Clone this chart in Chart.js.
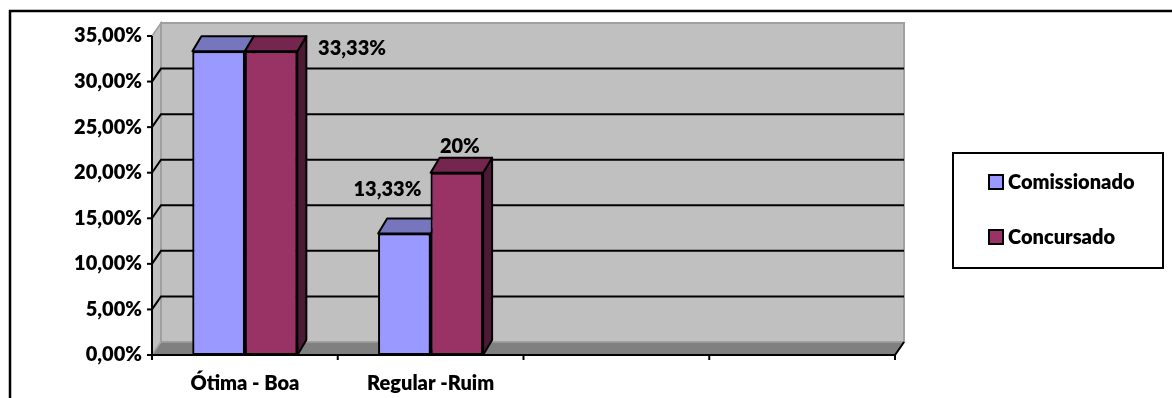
<!DOCTYPE html>
<html>
<head>
<meta charset="utf-8">
<script src="https://cdn.jsdelivr.net/npm/chart.js@4.4.1/dist/chart.umd.min.js"></script>
<style>
  html, body { margin: 0; padding: 0; background: #fff; }
  canvas { display: block; }
</style>
</head>
<body>
<canvas id="myChart" width="1172" height="398"></canvas>
<script>
const categories = ['Ótima - Boa', 'Regular -Ruim', '', ''];
const seriesNames = ['Comissionado', 'Concursado'];
const comissionado = [0.3333, 0.1333, null, null];
const concursado = [0.3333, 0.20, null, null];
const yMin = 0, yMax = 0.35, yStep = 0.05;

const FONT = 'Lato, "Open Sans", sans-serif';
const WEIGHT = '800';
const frontColors = ['#9999FF', '#993366'];
const topColors = ['#7676BF', '#74264F'];
const sideColors = ['#5A5A96', '#4D1A35'];
const wallDepth = { dx: 9, dy: -13 };
const barDepth = { dx: 9, dy: -15 };

// where each value label sits relative to its bar (x centre, front top); null = hidden
const labelSpots = [
  [null, { x: -17, y: -44, align: 'center' }],
  [{ x: 47, y: -3, align: 'left' }, { x: 3, y: -26, align: 'center' }]
];

function pctLabel(v) {
  const p = Math.round(v * 10000) / 100;
  return (Number.isInteger(p) ? String(p) : p.toFixed(2)).replace('.', ',') + '%';
}

function poly(ctx, pts, fill, stroke, lw) {
  ctx.beginPath();
  ctx.moveTo(pts[0][0], pts[0][1]);
  for (let i = 1; i < pts.length; i++) ctx.lineTo(pts[i][0], pts[i][1]);
  ctx.closePath();
  if (fill) { ctx.fillStyle = fill; ctx.fill(); }
  if (stroke) { ctx.strokeStyle = stroke; ctx.lineWidth = lw; ctx.stroke(); }
}

// walls, floor and gridlines behind the bars
const frame3d = {
  id: 'frame3d',
  beforeDatasetsDraw(chart) {
    const { ctx, chartArea: a, scales: { y } } = chart;
    const { dx, dy } = wallDepth;
    const y0 = y.getPixelForValue(yMin);
    const yTop = y.getPixelForValue(yMax);
    ctx.save();
    poly(ctx, [[a.left, yTop], [a.left + dx, yTop + dy], [a.left + dx, y0 + dy], [a.left, y0]], '#C0C0C0', '#A0A0A0', 1.5);
    poly(ctx, [[a.left + dx, yTop + dy], [a.right + dx, yTop + dy], [a.right + dx, y0 + dy], [a.left + dx, y0 + dy]], '#C0C0C0', '#A0A0A0', 2);
    poly(ctx, [[a.left, y0], [a.left + dx, y0 + dy], [a.right + dx, y0 + dy], [a.right, y0]], '#808080', '#A0A0A0', 1.5);

    ctx.strokeStyle = '#000';
    ctx.lineWidth = 2;
    y.ticks.forEach(t => {
      if (t.value <= yMin || t.value >= yMax) return;
      const py = y.getPixelForValue(t.value);
      ctx.beginPath();
      ctx.moveTo(a.left, py);
      ctx.lineTo(a.left + dx, py + dy);
      ctx.lineTo(a.right + dx, py + dy);
      ctx.stroke();
    });
    ctx.restore();
  },
  afterDatasetsDraw(chart) {
    const { ctx, chartArea: a, scales: { x, y } } = chart;
    const { dx, dy } = wallDepth;
    const y0 = y.getPixelForValue(yMin);
    const yTop = y.getPixelForValue(yMax);
    ctx.save();
    ctx.strokeStyle = '#000';
    ctx.lineWidth = 2;
    ctx.beginPath();
    ctx.moveTo(a.left, yTop);
    ctx.lineTo(a.left, y0);
    ctx.lineTo(a.right, y0);
    ctx.lineTo(a.right + dx, y0 + dy);
    ctx.stroke();
    // y tick marks
    y.ticks.forEach(t => {
      const py = y.getPixelForValue(t.value);
      ctx.beginPath();
      ctx.moveTo(a.left - 5, py);
      ctx.lineTo(a.left, py);
      ctx.stroke();
    });
    // x tick marks at category boundaries
    const n = categories.length;
    const w = (a.right - a.left) / n;
    for (let i = 0; i <= n; i++) {
      const px = x.getPixelForValue(i) - w / 2;
      ctx.beginPath();
      ctx.moveTo(px, y0);
      ctx.lineTo(px, y0 + 5);
      ctx.stroke();
    }
    ctx.restore();
  }
};

// bars again, series by series, each with its side and top face so the
// right-hand neighbour covers the side of the one before it
const bars3d = {
  id: 'bars3d',
  afterDatasetsDraw(chart) {
    const { ctx } = chart;
    const { dx, dy } = barDepth;
    ctx.save();
    ctx.lineJoin = 'round';
    chart.data.datasets.forEach((ds, d) => {
      const meta = chart.getDatasetMeta(d);
      meta.data.forEach((el, i) => {
        if (ds.data[i] == null) return;
        el.draw(ctx, chart.chartArea);
        const { x, y, base, width } = el.getProps(['x', 'y', 'base', 'width'], true);
        const l = x - width / 2, r = x + width / 2;
        poly(ctx, [[r, y], [r + dx, y + dy], [r + dx, base + dy], [r, base]], sideColors[d], '#000', 2);
        poly(ctx, [[l, y], [l + dx, y + dy], [r + dx, y + dy], [r, y]], topColors[d], '#000', 2);
      });
    });
    ctx.restore();
  }
};

// value labels, legend box and outer border
const overlay = {
  id: 'overlay',
  afterDraw(chart) {
    const { ctx } = chart;
    ctx.save();
    ctx.font = WEIGHT + ' 20px ' + FONT;
    ctx.fillStyle = '#000';
    ctx.textBaseline = 'middle';
    chart.data.datasets.forEach((ds, d) => {
      const meta = chart.getDatasetMeta(d);
      ds.data.forEach((v, i) => {
        const spot = labelSpots[d][i];
        if (v == null || !spot) return;
        const el = meta.data[i];
        ctx.textAlign = spot.align;
        ctx.fillText(pctLabel(v), el.x + spot.x, el.y + spot.y);
      });
    });

    // legend
    const lx = 953, ly = 153, lw = 210, lh = 115;
    ctx.fillStyle = '#fff';
    ctx.fillRect(lx, ly, lw, lh);
    ctx.strokeStyle = '#000';
    ctx.lineWidth = 2;
    ctx.strokeRect(lx, ly, lw, lh);
    const rows = [182, 237];
    ctx.textAlign = 'left';
    seriesNames.forEach((name, k) => {
      ctx.fillStyle = frontColors[k];
      ctx.fillRect(989, rows[k] - 7, 14, 14);
      ctx.strokeRect(989, rows[k] - 7, 14, 14);
      ctx.fillStyle = '#000';
      ctx.fillText(name, 1008, rows[k] + 1);
    });

    ctx.lineWidth = 2.5;
    ctx.strokeRect(10, 11, 1300, 600);
    ctx.restore();
  }
};

new Chart(document.getElementById('myChart').getContext('2d'), {
  type: 'bar',
  data: {
    labels: categories,
    datasets: [
      { label: seriesNames[0], data: comissionado, backgroundColor: frontColors[0] },
      { label: seriesNames[1], data: concursado, backgroundColor: frontColors[1] }
    ]
  },
  options: {
    responsive: false,
    animation: false,
    layout: { padding: { left: 0, top: 36, right: 277, bottom: 0 } },
    datasets: {
      bar: {
        barPercentage: 1,
        categoryPercentage: 0.565,
        borderWidth: 2,
        borderColor: '#000',
        borderSkipped: false
      }
    },
    plugins: {
      legend: { display: false },
      tooltip: { enabled: false }
    },
    scales: {
      x: {
        grid: { display: false, drawTicks: false },
        border: { display: false },
        ticks: { color: '#000', font: { family: FONT, size: 20, weight: WEIGHT }, padding: 17, autoSkip: false, maxRotation: 0 },
        afterFit(s) { s.height = 43; }
      },
      y: {
        min: yMin,
        max: yMax,
        grid: { display: false, drawTicks: false },
        border: { display: false },
        ticks: {
          stepSize: yStep,
          color: '#000',
          padding: 10,
          font: { family: FONT, size: 20, weight: WEIGHT },
          callback: v => (v * 100).toFixed(2).replace('.', ',') + '%'
        },
        afterFit(s) { s.width = 152; }
      }
    }
  },
  plugins: [frame3d, bars3d, overlay]
});
</script>
</body>
</html>
